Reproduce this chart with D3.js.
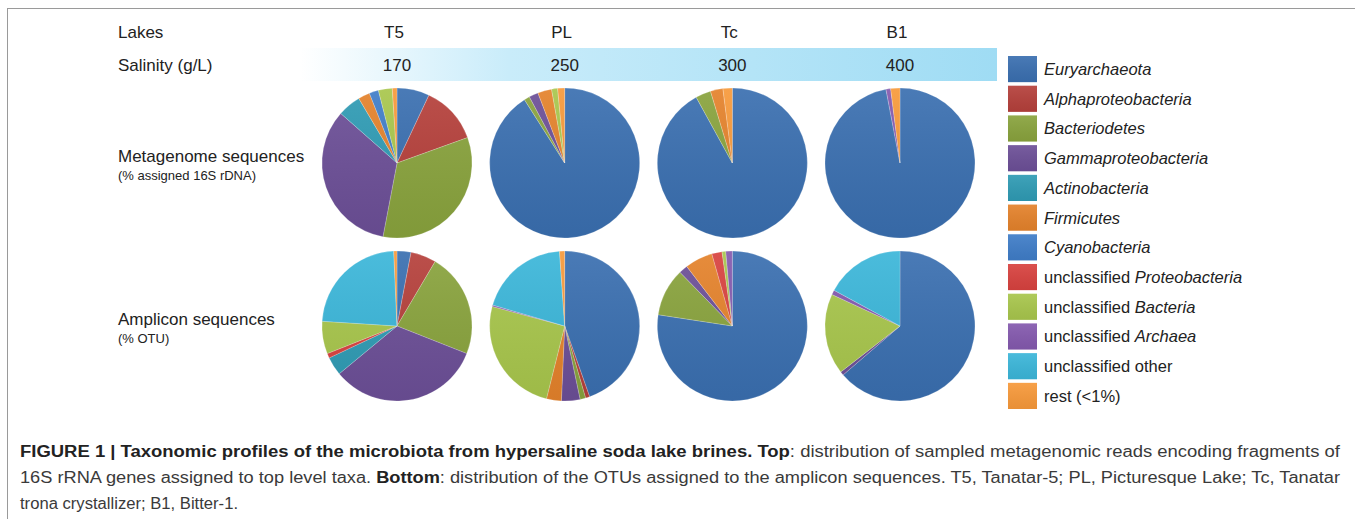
<!DOCTYPE html>
<head>
	<meta charset="utf-8">
	<script src="https://d3js.org/d3.v7.min.js"></script>
	<style>
		body { margin: 0; background: #fff; }
	</style>
</head>
<body>
	<div id="fig"></div>
	<script>

	var width = 1355,
	height = 519;

	// lakes and salinity
	var lakes = ["T5", "PL", "Tc", "B1"];
	var salinity = [170, 250, 300, 400];

	// legend categories (same order as every pie)
	var taxa = ["Euryarchaeota", "Alphaproteobacteria", "Bacteriodetes", "Gammaproteobacteria",
		"Actinobacteria", "Firmicutes", "Cyanobacteria", "unclassified Proteobacteria",
		"unclassified Bacteria", "unclassified Archaea", "unclassified other", "rest (<1%)"];

	// % of metagenome sequences (top row)
	var metaT5 = [7, 12.5, 33.5, 33.5, 5, 2.5, 2, 0, 3, 0, 0, 1];
	var metaPL = [91, 0, 1.2, 2, 0, 3, 0, 0, 1.3, 0, 0, 1.5];
	var metaTc = [92, 0, 3.3, 0, 0, 2.7, 0, 0, 0, 0, 0, 2];
	var metaB1 = [97, 0, 0, 0, 0, 0, 0, 0, 0, 1, 0, 2];

	// % OTU of amplicon sequences (bottom row)
	var ampT5 = [3, 5.5, 22.5, 33, 4, 0, 0, 1, 7, 0, 23.3, 0.7];
	var ampPL = [44.6, 0.9, 1.2, 4, 0, 3.2, 0, 0, 25.3, 0.3, 19.4, 1.1];
	var ampTc = [77.4, 0, 10.3, 1.9, 0, 6, 0, 2.2, 0.8, 1.4, 0, 0];
	var ampB1 = [63.7, 0, 0, 0.8, 0, 0, 0, 0, 17.4, 1, 17.1, 0];

	var rows = [
		{ label: "Metagenome sequences", sub: "(% assigned 16S rDNA)", data: [metaT5, metaPL, metaTc, metaB1] },
		{ label: "Amplicon sequences", sub: "(% OTU)", data: [ampT5, ampPL, ampTc, ampB1] }
	];

	var palette = ["#3a6fb0", "#b5403b", "#89a33d", "#6c4f97", "#2f9bb4", "#e4822b",
		"#3f7dc8", "#d8423f", "#a8c64c", "#8459ae", "#3bb6d9", "#f7993a"];

	var color = d3.scaleOrdinal().domain(taxa).range(palette);

	var svg = d3.select("#fig").append("svg")
		.attr("width", width)
		.attr("height", height);

	var defs = svg.append("defs");

	// frame around the figure
	svg.append("rect")
		.attr("x", 7.5).attr("y", 8.5)
		.attr("width", 1400).attr("height", 600)
		.attr("fill", "none")
		.attr("stroke", "#9a9a9a");

	// column and row positions
	var x = d3.scalePoint().domain(lakes).range([397, 900]);
	var y = d3.scalePoint().domain(rows.map(d => d.label)).range([163, 326]);
	var radius = 75;

	var font = "'Liberation Sans', Arial, sans-serif";

	// salinity band
	var grad = defs.append("linearGradient").attr("id", "band")
		.attr("x1", "0%").attr("x2", "100%");
	grad.append("stop").attr("offset", "0%").attr("stop-color", "#ffffff");
	grad.append("stop").attr("offset", "30%").attr("stop-color", "#c9ecfa");
	grad.append("stop").attr("offset", "100%").attr("stop-color", "#9fdcf4");

	svg.append("rect")
		.attr("x", 300).attr("y", 48)
		.attr("width", 697).attr("height", 33)
		.attr("fill", "url(#band)");

	svg.append("text")
		.attr("x", 118).attr("y", 38)
		.style("font-family", font).style("font-size", "17px").attr("fill", "#222")
		.text("Lakes");
	svg.append("text")
		.attr("x", 118).attr("y", 71)
		.style("font-family", font).style("font-size", "17px").attr("fill", "#222")
		.text("Salinity (g/L)");

	svg.selectAll(".lake")
		.data(lakes)
		.join("text")
			.attr("class", "lake")
			.attr("x", d => x(d) - 3).attr("y", 38)
			.attr("text-anchor", "middle")
			.style("font-family", font).style("font-size", "17px").attr("fill", "#222")
			.text(d => d);

	svg.selectAll(".sal")
		.data(salinity)
		.join("text")
			.attr("class", "sal")
			.attr("x", (d, i) => x(lakes[i])).attr("y", 71)
			.attr("text-anchor", "middle")
			.style("font-family", font).style("font-size", "17px").attr("fill", "#222")
			.text(d => d);

	// row labels
	rows.forEach(function(r) {
		svg.append("text")
			.attr("x", 118).attr("y", y(r.label) - 1)
			.style("font-family", font).style("font-size", "17px").attr("fill", "#222")
			.text(r.label);
		svg.append("text")
			.attr("x", 118).attr("y", y(r.label) + 17)
			.style("font-family", font).style("font-size", "13px").attr("fill", "#222")
			.text(r.sub);
	});

	// pies
	var pie = d3.pie().sort(null).value(d => d);
	var arc = d3.arc().innerRadius(0).outerRadius(radius);

	var shade = defs.append("linearGradient").attr("id", "shade")
		.attr("x1", "0%").attr("y1", "0%").attr("x2", "0%").attr("y2", "100%");
	shade.append("stop").attr("offset", "0%").attr("stop-color", "#fff").attr("stop-opacity", 0.08);
	shade.append("stop").attr("offset", "100%").attr("stop-color", "#000").attr("stop-opacity", 0.06);

	rows.forEach(function(r) {
		r.data.forEach(function(vals, i) {
			var g = svg.append("g")
				.attr("transform", "translate(" + x(lakes[i]) + "," + y(r.label) + ")");
			g.selectAll("path")
				.data(pie(vals).filter(d => d.value > 0))
				.join("path")
					.attr("d", arc)
					.attr("fill", d => color(taxa[d.index]))
					.attr("stroke", "#fff")
					.attr("stroke-opacity", 0.35)
					.attr("stroke-width", 0.6);
			g.append("circle")
				.attr("r", radius)
				.attr("fill", "url(#shade)");
		});
	});

	// legend
	var ly = d3.scaleBand().domain(taxa).range([56, 409]).paddingInner(0.12);
	var italic = {
		"unclassified Proteobacteria": ["unclassified ", "Proteobacteria"],
		"unclassified Bacteria": ["unclassified ", "Bacteria"],
		"unclassified Archaea": ["unclassified ", "Archaea"],
		"unclassified other": ["unclassified other", ""],
		"rest (<1%)": ["rest (<1%)", ""]
	};

	var leg = svg.append("g").selectAll("g")
		.data(taxa)
		.join("g")
			.attr("transform", d => "translate(1008," + ly(d) + ")");

	leg.append("rect")
		.attr("width", 29)
		.attr("height", ly.bandwidth())
		.attr("fill", d => color(d));
	leg.append("rect")
		.attr("width", 29)
		.attr("height", ly.bandwidth())
		.attr("fill", "url(#shade)");

	leg.append("text")
		.attr("x", 36)
		.attr("y", ly.bandwidth() / 2 + 6)
		.style("font-family", font).style("font-size", "16.5px").attr("fill", "#222")
		.each(function(d) {
			var t = d3.select(this);
			if (italic[d]) {
				t.append("tspan").text(italic[d][0]);
				t.append("tspan").style("font-style", "italic").text(italic[d][1]);
			} else {
				t.append("tspan").style("font-style", "italic").text(d);
			}
		});

	// caption
	var cfont = "'Liberation Sans Narrow', 'Arial Narrow', 'Liberation Sans', sans-serif";
	var cap = [
		{ y: 457, len: 1320, parts: [["FIGURE 1 | Taxonomic profiles of the microbiota from hypersaline soda lake brines. Top", true], [": distribution of sampled metagenomic reads encoding fragments of", false]] },
		{ y: 483, len: 1320, parts: [["16S rRNA genes assigned to top level taxa. ", false], ["Bottom", true], [": distribution of the OTUs assigned to the amplicon sequences. T5, Tanatar-5; PL, Picturesque Lake; Tc, Tanatar", false]] },
		{ y: 509, len: 218, parts: [["trona crystallizer; B1, Bitter-1.", false]] }
	];

	cap.forEach(function(c) {
		var t = svg.append("text")
			.attr("x", 20).attr("y", c.y)
			.attr("textLength", c.len)
			.attr("lengthAdjust", "spacingAndGlyphs")
			.style("font-family", cfont).style("font-size", "16px").attr("fill", "#3a3a3a");
		c.parts.forEach(function(p) {
			t.append("tspan")
				.style("font-weight", p[1] ? "bold" : "normal")
				.attr("fill", p[1] ? "#222" : "#3a3a3a")
				.text(p[0]);
		});
	});

</script>
</body>
